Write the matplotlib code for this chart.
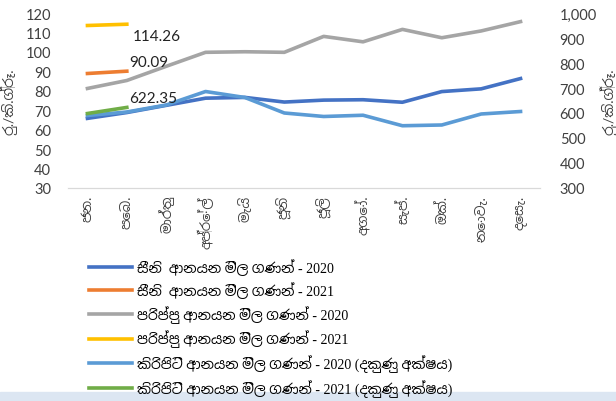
import matplotlib
matplotlib.use("Agg")
import matplotlib.pyplot as plt
from matplotlib import font_manager
from matplotlib.ticker import FuncFormatter, MultipleLocator
import numpy as np

# look for any font that has Sinhala glyphs, fall back to the usual ones
sinhala = sorted({f.name for f in font_manager.fontManager.ttflist
                  if "Sinhala" in f.name or "Iskoola" in f.name})
plt.rcParams["font.family"] = ["Lato"] + sinhala + ["DejaVu Sans"]
serif = ["Liberation Serif"] + sinhala + ["DejaVu Serif"]

months = ["ජන.", "පෙබ.", "මාර්තු", "අප්‍රේල්", "මැයි", "ජූනි", "ජූලි",
          "අගෝ.", "සැප්.", "ඔක්.", "නොවැ.", "දෙසැ."]

sugar_2020 = [65.8, 68.8, 72.5, 76.2, 76.6, 74.2, 75.2, 75.4, 74.1, 79.6, 81.0, 86.3]
sugar_2021 = [88.9, 90.09]
lentil_2020 = [81.2, 85.3, 92.6, 99.8, 100.1, 99.8, 108.0, 105.2, 111.6, 107.3, 110.8, 115.6]
lentil_2021 = [113.6, 114.26]
milk_2020 = [590, 604, 632, 686, 662, 600, 586, 591, 549, 552, 596, 606]
milk_2021 = [598, 622.35]

labels = ["සීනි  ආනයන මිල ගණන් - 2020",
          "සීනි  ආනයන මිල ගණන් - 2021",
          "පරිප්පු ආනයන මිල ගණන් - 2020",
          "පරිප්පු ආනයන මිල ගණන් - 2021",
          "කිරිපිටි ආනයන මිල ගණන් - 2020 (දකුණු අක්ෂය)",
          "කිරිපිටි ආනයන මිල ගණන් - 2021 (දකුණු අක්ෂය)"]
colors = ["#4472c4", "#ed7d31", "#a5a5a5", "#ffc000", "#5b9bd5", "#70ad47"]
ylab = "රු./කි.ග්‍රෑ."

fig = plt.figure(figsize=(6.16, 4.02), dpi=100)
ax = fig.add_axes([0.110, 0.530, 0.767, 0.435])
ax2 = ax.twinx()

x = np.arange(len(months))
lw = 2.6
h = []
h += ax.plot(x, sugar_2020, color=colors[0], lw=lw)
h += ax.plot(x[:2], sugar_2021, color=colors[1], lw=lw)
h += ax.plot(x, lentil_2020, color=colors[2], lw=lw)
h += ax.plot(x[:2], lentil_2021, color=colors[3], lw=lw)
h += ax2.plot(x, milk_2020, color=colors[4], lw=lw)
h += ax2.plot(x[:2], milk_2021, color=colors[5], lw=lw)

ax.set_xlim(-0.5, 11.5)
ax.set_ylim(30, 120)
ax2.set_ylim(300, 1000)
ax.yaxis.set_major_locator(MultipleLocator(10))
ax2.yaxis.set_major_locator(MultipleLocator(100))
ax2.yaxis.set_major_formatter(FuncFormatter(lambda v, p: f"{v:,.0f}"))

tc = "#404040"
for a in (ax, ax2):
    for s in ("top", "left", "right"):
        a.spines[s].set_visible(False)
    a.spines["bottom"].set_color("#d9d9d9")
    a.tick_params(length=0, colors=tc, labelsize=10.5)
ax.set_xticks(x)
ax.set_xticklabels(months, rotation=90, va="top", fontsize=9.5)
ax.tick_params(axis="x", pad=5)
ax.tick_params(axis="y", pad=12)
ax2.tick_params(axis="y", pad=14)

ax.set_ylabel(ylab, color=tc, fontsize=10, labelpad=6)
ax2.set_ylabel(ylab, color=tc, fontsize=10, labelpad=2)

# data labels on the last 2021 points
ax.annotate(f"{lentil_2021[-1]:.2f}", (x[1], lentil_2021[-1]), xytext=(4, -11),
            textcoords="offset points", fontsize=11, color="#222222")
ax.annotate(f"{sugar_2021[-1]:.2f}", (x[1], sugar_2021[-1]), xytext=(2, 4),
            textcoords="offset points", fontsize=11, color="#222222")
ax2.annotate(f"{milk_2021[-1]:.2f}", (x[1], milk_2021[-1]), xytext=(2, 4),
             textcoords="offset points", fontsize=11, color="#222222")

fig.legend(h, labels, loc="upper left", bbox_to_anchor=(0.135, 0.37),
           frameon=False, prop={"family": serif, "size": 10},
           handlelength=3.1, handletextpad=0.4,
           labelspacing=0.5, borderaxespad=0)

# pale band along the bottom edge
fig.patches.append(plt.Rectangle((0, 0), 1, 0.022, transform=fig.transFigure,
                                 color="#dce6f2", zorder=0))

fig.savefig("out.png", dpi=100)
